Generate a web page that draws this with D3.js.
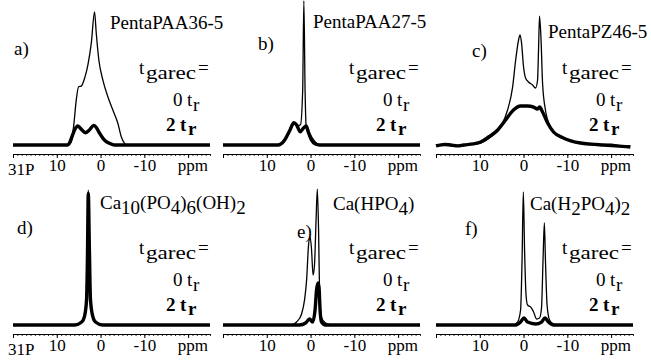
<!DOCTYPE html>
<html>
<head>
<meta charset="utf-8">
<script src="https://cdn.jsdelivr.net/npm/d3@7"></script>
<style>
  body { margin: 0; background: #fff; }
  svg { display: block; }
</style>
</head>
<body>
<svg id="chart" width="651" height="360"></svg>
<script>
"use strict";

// spectra as [ppm, intensity] pairs (0 tr = thin, 2 tr = thick)
var specA0 = [[20, 0], [7.47, 0], [6.69, 2.4], [6.16, 13.1], [5.55, 32.1], [5.02, 41.6], [4.41, 42.1], [3.65, 47.6],
    [2.9, 57.1], [2.12, 72.6], [1.37, 95], [0.98, 79.8], [0.39, 60.7], [-0.53, 46.4], [-1.67, 34.5], [-2.81, 25],
    [-3.95, 15.5], [-4.73, 5.9], [-5.48, 1.2], [-6.16, 0], [-25, 0]];
var specA2 = [[20, 0], [7.5, 0], [7.1, 1.4], [6.4, 7.1], [5.9, 11], [5.18, 13.6], [4.4, 11.2], [3.42, 8.8],
    [2.5, 10.9], [1.53, 14], [0.9, 12.2], [0.23, 8.4], [-0.6, 4.6], [-1.3, 2.4], [-2.5, 0.6], [-3.2, 0], [-25, 0]];

var specB0 = [[20, 0], [7.5, 0], [6.4, 2.1], [5.5, 6.4], [4.6, 12.1], [3.65, 15], [3.0, 13.6], [2.3, 14.5],
    [1.8, 39], [1.53, 103], [1.25, 39], [1.0, 13.6], [0.7, 12.1], [0.2, 8.6], [-0.7, 3.6], [-1.6, 0.7], [-2.5, 0], [-25, 0]];
var specB2 = [[20, 0], [7.5, 0], [5.9, 3.6], [4.8, 10], [3.8, 15.9], [3.2, 14.4], [2.35, 9.5], [1.6, 12.2],
    [1.0, 13.6], [0.45, 8.6], [-0.2, 3.6], [-1.1, 0.7], [-2.05, 0], [-25, 0]];

var specC0 = [[20, 0], [17, 0.6], [14.4, -0.7], [12, 0.5], [9.8, 1.4], [7.5, 5.7], [5.25, 12.9], [3.65, 25],
    [2.5, 41.4], [1.8, 60.7], [1.14, 75], [0.8, 78.6], [0.46, 72.9], [0, 55.7], [-0.46, 47.9], [-1.14, 45],
    [-2.05, 42.9], [-2.74, 40.7], [-3.2, 46.4], [-3.42, 67.9], [-3.65, 92.1], [-4.0, 75], [-4.34, 44.3],
    [-5.0, 25], [-6.16, 12.9], [-7.76, 7.1], [-10.0, 3.6], [-13.0, 1.4], [-16.9, 0], [-20, 0.6], [-22, -0.4], [-24.4, -0.7]];
var specC2 = [[20, -0.7], [18, 0.4], [16.7, 0], [15, -0.6], [13.7, 0], [11.5, 0.8], [9.8, 2.1], [8.0, 5.7],
    [5.9, 10.7], [4.1, 17.9], [2.3, 25], [0.7, 27.9], [-0.9, 27.9], [-2.3, 27.1], [-3.2, 25.7], [-3.65, 27.1],
    [-4.34, 23.6], [-5.5, 15.7], [-6.85, 9.3], [-9.1, 5], [-13.0, 1.4], [-15.5, 0.6], [-18.3, 0], [-21, -0.6], [-24.4, -1.4]];

var specD0 = [[20, 0], [5.9, 0], [4.3, 2.1], [3.65, 6.4], [3.2, 17.9], [3.0, 46.4], [2.8, 96.4], [2.55, 53.6],
    [2.3, 17.9], [1.8, 6.4], [1.15, 2.1], [-0.45, 0], [-25, 0]];
var specD2 = [[20, 0], [5.9, 0], [4.3, 2.1], [3.65, 6.4], [3.2, 17.9], [3.0, 46.4], [2.8, 94], [2.55, 53.6],
    [2.3, 17.9], [1.8, 6.4], [1.15, 2.1], [-0.45, 0], [-25, 0]];

var specE0 = [[20, 0], [4.3, 0], [3.2, 2.1], [2.05, 7.9], [1.37, 17.9], [0.9, 32.1], [0.46, 57.1], [0.1, 62.9],
    [-0.23, 53.6], [-0.57, 35.7], [-0.9, 42.9], [-1.26, 75], [-1.55, 97.1], [-1.83, 67.9], [-2.05, 25],
    [-2.28, 10.7], [-2.74, 3.6], [-3.9, 0.7], [-5.5, 0], [-25, 0]];
var specE2 = [[20, 0], [2.5, 0], [1.14, 1.4], [0.23, 4.3], [-0.46, 2.1], [-1.03, 10.7], [-1.37, 25], [-1.7, 30],
    [-1.94, 26.4], [-2.17, 10.7], [-2.5, 2.1], [-3.4, 0], [-25, 0]];

var specF0 = [[20, 0], [2.5, 0], [1.37, 2.1], [0.68, 10.7], [0.34, 46.4], [0.05, 95], [-0.23, 53.6], [-0.57, 21.4],
    [-0.91, 14.3], [-1.6, 12.9], [-2.3, 9.3], [-2.97, 4.3], [-3.65, 5], [-4.1, 12.1], [-4.45, 46.4], [-4.75, 72.9],
    [-5.0, 46.4], [-5.37, 14.3], [-5.94, 3.6], [-6.85, 0.7], [-8.4, 0], [-25, 0]];
var specF2 = [[20, 0], [1.8, 0], [0.68, 2.1], [-0.1, 5], [-0.91, 2.1], [-2.74, 0.7], [-4.1, 2.1], [-4.9, 5],
    [-5.7, 2.1], [-6.85, 0], [-25, 0]];

var panelLetters = ["a)", "b)", "c)", "d)", "e)", "f)"];
// titles as [text, isSubscript] runs
var panelTitles = [
    [["PentaPAA36-5", 0]],
    [["PentaPAA27-5", 0]],
    [["PentaPZ46-5", 0]],
    [["Ca", 0], ["10", 1], ["(PO", 0], ["4", 1], [")", 0], ["6", 1], ["(OH)", 0], ["2", 1]],
    [["Ca(HPO", 0], ["4", 1], [")", 0]],
    [["Ca(H", 0], ["2", 1], ["PO", 0], ["4", 1], [")", 0], ["2", 1]]
];
var majorTicks = [20, 10, 0, -10, -20];
var tickLabels = ["", "10", "0", "-10", ""];
var nucleusLabel = "31P";
var unitLabel = "ppm";

var serif = "'Liberation Serif', 'DejaVu Serif', serif";

var panels = [
    { spec0: specA0, spec2: specA2, ox: 0, oy: 0, letter: [14, 55], title: [110, 29] },
    { spec0: specB0, spec2: specB2, ox: 210, oy: 0, letter: [48, 50], title: [103, 28] },
    { spec0: specC0, spec2: specC2, ox: 423, oy: 0, letter: [49, 57], title: [125, 38] },
    { spec0: specD0, spec2: specD2, ox: 0, oy: 180, letter: [17, 54], title: [100, 29] },
    { spec0: specE0, spec2: specE2, ox: 210, oy: 180, letter: [87, 58], title: [123, 30] },
    { spec0: specF0, spec2: specF2, ox: 423, oy: 180, letter: [42, 55], title: [107, 30] }
];

var svg = d3.select("#chart");

panels.forEach(function (p, i) {
    var g = svg.append("g").attr("transform", "translate(" + p.ox + "," + p.oy + ")");
    var x = d3.scaleLinear().domain([20, -25]).range([13, 210]);
    var y = d3.scaleLinear().domain([0, 100]).range([145, 5]);
    var line = d3.line()
        .x(function (d) { return x(d[0]); })
        .y(function (d) { return y(d[1]); })
        .curve(d3.curveMonotoneX);

    g.append("path").datum(p.spec2).attr("d", line)
        .attr("fill", "none").attr("stroke", "#000").attr("stroke-width", 3.4).attr("stroke-linejoin", "round");
    g.append("path").datum(p.spec0).attr("d", line)
        .attr("fill", "none").attr("stroke", "#000").attr("stroke-width", 1.3).attr("stroke-linejoin", "round");

    // ppm axis: minor ticks every 1 ppm, major every 10
    var ax = g.append("g").attr("transform", "translate(0,154)");
    ax.call(d3.axisBottom(x).tickValues(d3.range(20, -26, -1)).tickSize(2).tickFormat(""));
    ax.select(".domain").remove();
    ax.selectAll(".tick line").attr("stroke-width", 0.8);
    var axMajor = g.append("g").attr("transform", "translate(0,154)");
    axMajor.call(d3.axisBottom(x).tickValues(majorTicks).tickSize(4).tickSizeOuter(0)
        .tickFormat(function (d, j) { return tickLabels[j]; }));
    axMajor.select(".domain").attr("stroke-width", 1.1);
    axMajor.selectAll(".tick line").attr("stroke-width", 1);
    axMajor.selectAll(".tick text").attr("font-size", 17)
        .attr("y", 17).attr("dy", 0).attr("fill", "#000");

    g.append("text").attr("x", 208).attr("y", 171).attr("text-anchor", "end")
        .attr("font-size", 17).text(unitLabel);
    if (p.ox === 0) {
        g.append("text").attr("x", 8).attr("y", 175).attr("font-size", 17).text(nucleusLabel);
    }

    g.append("text").attr("x", p.letter[0]).attr("y", p.letter[1]).attr("font-size", 19).text(panelLetters[i]);

    var title = g.append("text").attr("x", p.title[0]).attr("y", p.title[1]).attr("font-size", 19);
    var prevSub = 0;
    panelTitles[i].forEach(function (run) {
        title.append("tspan").attr("dy", (run[1] - prevSub) * 5).text(run[0]);
        prevSub = run[1];
    });

    // t_garec = / 0 t_r / 2 t_r
    g.append("text").attr("x", 139).attr("y", 74).attr("font-size", 19).text("t");
    g.append("text").attr("x", 146).attr("y", 79).attr("font-size", 19)
        .attr("textLength", 50).attr("lengthAdjust", "spacingAndGlyphs").text("garec");
    g.append("text").attr("x", 198).attr("y", 74).attr("font-size", 19).text("=");
    g.append("text").attr("x", 173).attr("y", 106).attr("font-size", 19).text("0");
    g.append("text").attr("x", 187).attr("y", 106).attr("font-size", 19).text("t");
    g.append("text").attr("x", 193).attr("y", 111).attr("font-size", 19).text("r");
    g.append("text").attr("x", 166).attr("y", 131).attr("font-size", 19).attr("font-weight", "bold").text("2");
    g.append("text").attr("x", 180).attr("y", 131).attr("font-size", 19).attr("font-weight", "bold").text("t");
    g.append("text").attr("x", 188).attr("y", 135).attr("font-size", 19).attr("font-weight", "bold").text("r");
});

svg.selectAll("text").style("font-family", serif).attr("fill", "#000");
</script>
</body>
</html>
